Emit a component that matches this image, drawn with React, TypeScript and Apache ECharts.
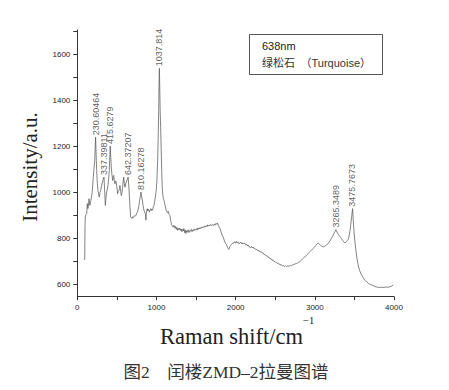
import React, { useEffect, useRef } from "react";
import * as echarts from "echarts";

// Raman shift (cm^-1) of the traced spectrum
const ramanShift = [
  93, 98, 101, 110, 119, 126, 133, 139, 148, 155, 160, 167, 173, 180, 186, 194, 202, 210, 220, 231,
  240, 245, 253, 261, 270, 278, 287, 295, 304, 312, 325, 337, 345, 350, 354, 362, 371, 380, 388, 396,
  404, 410, 416, 423, 429, 437, 447, 454, 460, 468, 476, 484, 492, 500, 510, 518, 527, 533, 539, 548,
  556, 565, 573, 580, 586, 594, 602, 612, 624, 634, 642, 650, 657, 665, 674, 683, 691, 700, 708, 716,
  725, 733, 741, 750, 758, 766, 776, 788, 796, 804, 812, 821, 830, 842, 850, 859, 863, 867, 872, 878,
  884, 890, 897, 905, 912, 920, 927, 935, 941, 947, 955, 962, 968, 975, 985, 991, 997, 1005, 1015, 1022,
  1028, 1032, 1037, 1042, 1047, 1053, 1060, 1066, 1072, 1078, 1086, 1095, 1102, 1108, 1114, 1120, 1127, 1136, 1140, 1150,
  1160, 1170, 1180, 1190, 1200, 1210, 1220, 1228, 1234, 1242, 1250, 1258, 1266, 1275, 1284, 1294, 1302, 1312, 1320, 1330,
  1338, 1346, 1355, 1364, 1372, 1381, 1390, 1400, 1410, 1420, 1430, 1440, 1450, 1460, 1468, 1477, 1486, 1495, 1505, 1514,
  1522, 1530, 1540, 1550, 1560, 1570, 1580, 1590, 1600, 1612, 1620, 1630, 1640, 1648, 1656, 1665, 1675, 1685, 1695, 1705,
  1717, 1728, 1740, 1750, 1760, 1770, 1781, 1792, 1802, 1815, 1830, 1843, 1858, 1872, 1886, 1900, 1915, 1925, 1935, 1950,
  1960, 1970, 1980, 1991, 2000, 2010, 2020, 2030, 2040, 2054, 2065, 2075, 2085, 2095, 2105, 2117, 2128, 2140, 2150, 2160,
  2170, 2180, 2190, 2200, 2212, 2222, 2232, 2243, 2255, 2265, 2275, 2286, 2296, 2306, 2318, 2328, 2340, 2350, 2360, 2369,
  2380, 2390, 2400, 2410, 2420, 2433, 2445, 2455, 2465, 2475, 2485, 2496, 2508, 2518, 2528, 2538, 2550, 2560, 2570, 2580,
  2592, 2604, 2615, 2628, 2644, 2660, 2675, 2690, 2705, 2720, 2735, 2750, 2765, 2780, 2795, 2812, 2830, 2845, 2860, 2880,
  2897, 2915, 2930, 2945, 2960, 2980, 2995, 3010, 3025, 3043, 3058, 3073, 3090, 3106, 3120, 3135, 3149, 3165, 3180, 3191,
  3205, 3220, 3232, 3250, 3266, 3280, 3295, 3310, 3325, 3338, 3352, 3366, 3380, 3395, 3410, 3422, 3435, 3445, 3452, 3465,
  3477, 3485, 3494, 3505, 3519, 3533, 3548, 3565, 3580, 3591, 3610, 3630, 3654, 3680, 3700, 3717, 3740, 3760, 3780, 3800,
  3820, 3840, 3860, 3885, 3905, 3925, 3948, 3970, 3990,
];

// Intensity (a.u.) matching ramanShift
const intensity = [
  707, 860, 894, 905, 908, 952, 930, 937, 973, 950, 944, 960, 966, 985, 995, 1030, 1067, 1100, 1139, 1240,
  1140, 1096, 1040, 1009, 990, 980, 1000, 1009, 1025, 1038, 1055, 1067, 1009, 975, 944, 975, 1002, 1015, 1031, 1060,
  1096, 1150, 1202, 1150, 1110, 1080, 1052, 1070, 1074, 1050, 1038, 1050, 1045, 1020, 995, 1005, 1009, 1020, 1031, 1005,
  987, 1000, 1023, 1050, 1067, 1040, 1023, 1040, 1050, 1060, 1067, 1030, 990, 940, 894, 890, 887, 895, 892, 894,
  900, 898, 901, 910, 915, 923, 940, 966, 985, 1002, 985, 966, 945, 923, 915, 908, 895, 880, 905, 925,
  930, 920, 928, 923, 915, 925, 930, 922, 928, 923, 930, 940, 944, 955, 980, 995, 1009, 1050, 1139, 1250,
  1355, 1460, 1539, 1440, 1350, 1283, 1180, 1096, 1030, 995, 975, 966, 955, 945, 937, 925, 920, 915, 912, 918,
  905, 900, 880, 860, 855, 850, 858, 850, 845, 853, 840, 848, 836, 845, 838, 846, 835, 842, 830, 840,
  833, 844, 826, 838, 822, 834, 828, 838, 826, 835, 832, 840, 830, 838, 834, 842, 836, 840, 837, 845,
  838, 846, 842, 848, 843, 850, 846, 852, 848, 855, 850, 856, 852, 860, 854, 858, 856, 862, 857, 860,
  856, 863, 858, 866, 862, 868, 858, 850, 844, 830, 815, 807, 790, 780, 772, 760, 753, 765, 770, 776,
  780, 778, 785, 786, 780, 788, 782, 786, 778, 781, 785, 777, 782, 776, 780, 779, 772, 776, 768, 772,
  764, 764, 760, 766, 760, 764, 757, 758, 752, 754, 748, 750, 744, 746, 740, 743, 736, 737, 730, 732,
  726, 727, 721, 722, 716, 716, 710, 711, 705, 706, 700, 701, 696, 697, 692, 693, 688, 690, 684, 686,
  682, 684, 679, 682, 679, 682, 680, 684, 682, 686, 688, 690, 692, 694, 697, 700, 706, 712, 717, 722,
  728, 735, 741, 746, 750, 757, 763, 770, 776, 781, 776, 772, 766, 764, 766, 769, 772, 778, 785, 790,
  798, 808, 815, 828, 839, 828, 819, 812, 805, 800, 792, 786, 781, 786, 792, 796, 815, 835, 858, 895,
  930, 880, 836, 790, 750, 712, 685, 662, 650, 642, 630, 620, 613, 605, 601, 599, 596, 592, 590, 589,
  588, 589, 588, 589, 590, 589, 591, 594, 599,
];

// Labelled peaks
const peakShifts = [230.60464, 337.39811, 415.6279, 642.37207, 810.16278, 1037.814, 3265.3489, 3475.7673];
const peakLabels = ["230.60464", "337.39811", "415.6279", "642.37207", "810.16278", "1037.814", "3265.3489", "3475.7673"];
const peakIntensity = [1240, 1067, 1202, 1067, 1002, 1539, 839, 930];

// Axis ticks and labels
const xTickValues = [0, 500, 1000, 1500, 2000, 2500, 3000, 3500, 4000];
const xLabelValues = [0, 1000, 2000, 3000, 4000];
const yTickValues = [600, 700, 800, 900, 1000, 1100, 1200, 1300, 1400, 1500, 1600, 1700];
const yLabelValues = [600, 800, 1000, 1200, 1400, 1600];

const legendLines = ["638nm", "绿松石　（Turquoise）"];
const xTitle = "Raman shift/cm";
const xTitleSup = "−1";
const yTitle = "Intensity/a.u.";
const caption = "图2　闰楼ZMD–2拉曼图谱";

export default function App() {
  const ref = useRef<HTMLDivElement>(null);
  useEffect(() => {
    if (!ref.current) return;
    const chart = echarts.init(ref.current, null, { renderer: "svg" });
    const lineData = ramanShift.map((x, i) => [x, intensity[i]]);
    const peakData = peakShifts.map((x, i) => ({ value: [x, peakIntensity[i]], name: peakLabels[i] }));
    const axisColor = "#333";
    const sans = "'Liberation Sans', Arial, sans-serif";
    const serif = "'Liberation Serif', 'Times New Roman', serif";
    const plain = (v: number) => String(v);
    chart.setOption({
      animation: false,
      backgroundColor: "#fff",
      grid: { left: 77.3, right: 55, top: 30, bottom: 93.3, containLabel: false },
      xAxis: {
        type: "value",
        min: 0,
        max: 4000,
        splitLine: { show: false },
        axisLine: { show: true, onZero: false, lineStyle: { color: axisColor, width: 1 } },
        axisTick: { show: true, length: 3.5, customValues: xTickValues, lineStyle: { color: axisColor } },
        axisLabel: { customValues: xLabelValues, formatter: plain, fontSize: 8, color: "#222", fontFamily: sans, margin: 7 },
      },
      yAxis: {
        type: "value",
        min: 548,
        max: 1705,
        splitLine: { show: false },
        axisLine: { show: true, onZero: false, lineStyle: { color: axisColor, width: 1 } },
        axisTick: { show: true, length: 4, customValues: yTickValues, lineStyle: { color: axisColor } },
        axisLabel: { customValues: yLabelValues, formatter: plain, fontSize: 8, color: "#222", fontFamily: sans, margin: 7 },
      },
      series: [
        {
          type: "line",
          data: lineData,
          showSymbol: false,
          symbol: "none",
          lineStyle: { color: "#5a5a5a", width: 0.75 },
          silent: true,
        },
        {
          type: "scatter",
          data: peakData,
          symbolSize: 0,
          silent: true,
          label: {
            show: true,
            position: "top",
            distance: 2,
            rotate: 90,
            align: "left",
            verticalAlign: "middle",
            formatter: (p: any) => p.name,
            fontSize: 9,
            fontFamily: sans,
            color: "#333",
          },
        },
      ],
      graphic: [
        {
          type: "rect",
          shape: { x: 249.5, y: 34.5, width: 133, height: 40 },
          style: { fill: "none", stroke: "#555", lineWidth: 1 },
        },
        {
          type: "text",
          x: 262,
          y: 46,
          style: { text: legendLines[0], fontSize: 11, fontFamily: sans, fill: "#222", verticalAlign: "middle", align: "left" },
        },
        {
          type: "text",
          x: 262,
          y: 63,
          style: {
            text: legendLines[1],
            fontSize: 11,
            fontFamily: "'Liberation Sans', 'Noto Sans CJK SC', sans-serif",
            fill: "#333",
            verticalAlign: "middle",
            align: "left",
          },
        },
        {
          type: "text",
          x: 30,
          y: 167,
          rotation: Math.PI / 2,
          style: { text: yTitle, fontSize: 21, fontFamily: serif, fill: "#222", align: "center", verticalAlign: "middle" },
        },
        {
          type: "text",
          x: 160,
          y: 336,
          style: { text: xTitle, fontSize: 22.5, fontFamily: serif, fill: "#222", align: "left", verticalAlign: "middle" },
        },
        {
          type: "text",
          x: 303,
          y: 320,
          style: { text: xTitleSup, fontSize: 10.5, fontFamily: serif, fill: "#222", align: "left", verticalAlign: "middle" },
        },
        {
          type: "text",
          x: 226,
          y: 372,
          style: {
            text: caption,
            fontSize: 17.5,
            fontFamily: "'Liberation Serif', 'Noto Sans CJK SC', serif",
            fill: "#333",
            align: "center",
            verticalAlign: "middle",
          },
        },
      ],
    });
    return () => chart.dispose();
  }, []);
  return (
    <div
      ref={ref}
      style={{ position: "fixed", left: 0, top: 0, width: 449, height: 390, background: "#fff" }}
    />
  );
}
